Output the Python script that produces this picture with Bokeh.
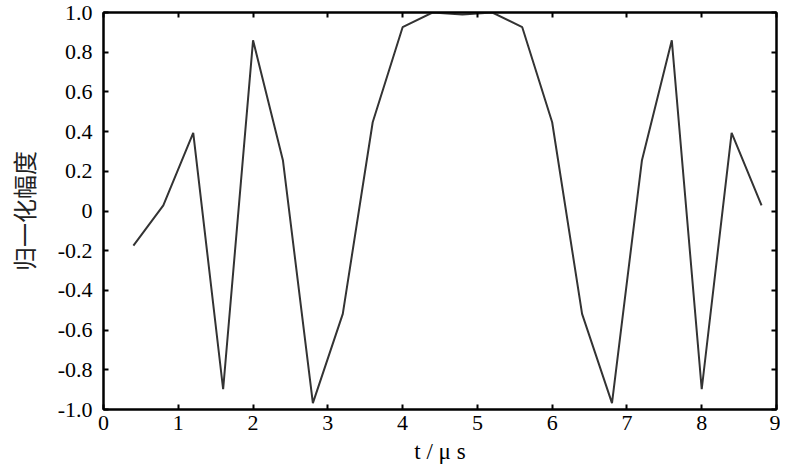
from bokeh.plotting import figure
from bokeh.models import LinearAxis, Range1d, FixedTicker
from bokeh.embed import file_html
from bokeh.resources import INLINE

t_us = [0.4, 0.8, 1.2, 1.6, 2.0, 2.4, 2.8, 3.2, 3.6, 4.0, 4.4,
        4.8, 5.2, 5.6, 6.0, 6.4, 6.8, 7.2, 7.6, 8.0, 8.4, 8.8]
amp = [-0.174, 0.028, 0.394, -0.898, 0.86, 0.254, -0.968, -0.518, 0.447, 0.926, 1.0,
       0.99, 1.0, 0.926, 0.447, -0.518, -0.968, 0.254, 0.86, -0.898, 0.394, 0.028]

x_ticks = [0, 1, 2, 3, 4, 5, 6, 7, 8, 9]
y_ticks = [-1.0, -0.8, -0.6, -0.4, -0.2, 0.0, 0.2, 0.4, 0.6, 0.8, 1.0]
y_tick_labels = ["-1.0", "-0.8", "-0.6", "-0.4", "-0.2", "0", "0.2", "0.4", "0.6", "0.8", "1.0"]

SERIF = "Liberation Serif"

p = figure(width=780, height=466, output_backend="svg", toolbar_location=None,
           x_range=Range1d(0, 9), y_range=Range1d(-1, 1),
           min_border_left=103, min_border_right=4, min_border_top=12, min_border_bottom=57,
           x_axis_location=None, y_axis_location=None)
p.grid.visible = False
p.outline_line_color = "black"
p.outline_line_width = 2
p.background_fill_color = "white"
p.border_fill_color = "white"

def style(ax, labels=True):
    ax.axis_line_color = "black"
    ax.axis_line_width = 2
    ax.major_tick_in = 5
    ax.major_tick_out = 0
    ax.major_tick_line_width = 2
    ax.minor_tick_line_color = None
    ax.major_label_text_font = SERIF
    ax.major_label_text_color = "black"
    if labels:
        ax.major_label_text_font_size = "22px"
    else:
        ax.major_label_text_font_size = "1px"
        ax.major_label_standoff = 0

xb = LinearAxis(ticker=FixedTicker(ticks=x_ticks))
style(xb)
xb.major_label_standoff = 6
xb.axis_label = "t / μ s"
xb.axis_label_text_font = SERIF
xb.axis_label_text_font_style = "normal"
xb.axis_label_text_font_size = "23px"
xb.axis_label_text_color = "black"
xb.axis_label_standoff = 6
p.add_layout(xb, "below")

xt = LinearAxis(ticker=FixedTicker(ticks=x_ticks),
                major_label_overrides={v: "" for v in x_ticks})
style(xt, labels=False)
p.add_layout(xt, "above")

yl = LinearAxis(ticker=FixedTicker(ticks=y_ticks),
                major_label_overrides={v: s for v, s in zip(y_ticks, y_tick_labels)})
style(yl)
yl.major_label_standoff = 11
yl.axis_label = "归一化幅度"
yl.axis_label_text_font = "Noto Sans CJK SC"
yl.axis_label_text_font_style = "normal"
yl.axis_label_text_font_size = "24px"
yl.axis_label_text_color = "#222222"
yl.axis_label_standoff = 14
p.add_layout(yl, "left")

yr = LinearAxis(ticker=FixedTicker(ticks=y_ticks),
                major_label_overrides={v: "" for v in y_ticks})
style(yr, labels=False)
p.add_layout(yr, "right")

p.line(t_us, amp, line_color="#333333", line_width=2)

open("out.html", "w").write(file_html(p, INLINE))
